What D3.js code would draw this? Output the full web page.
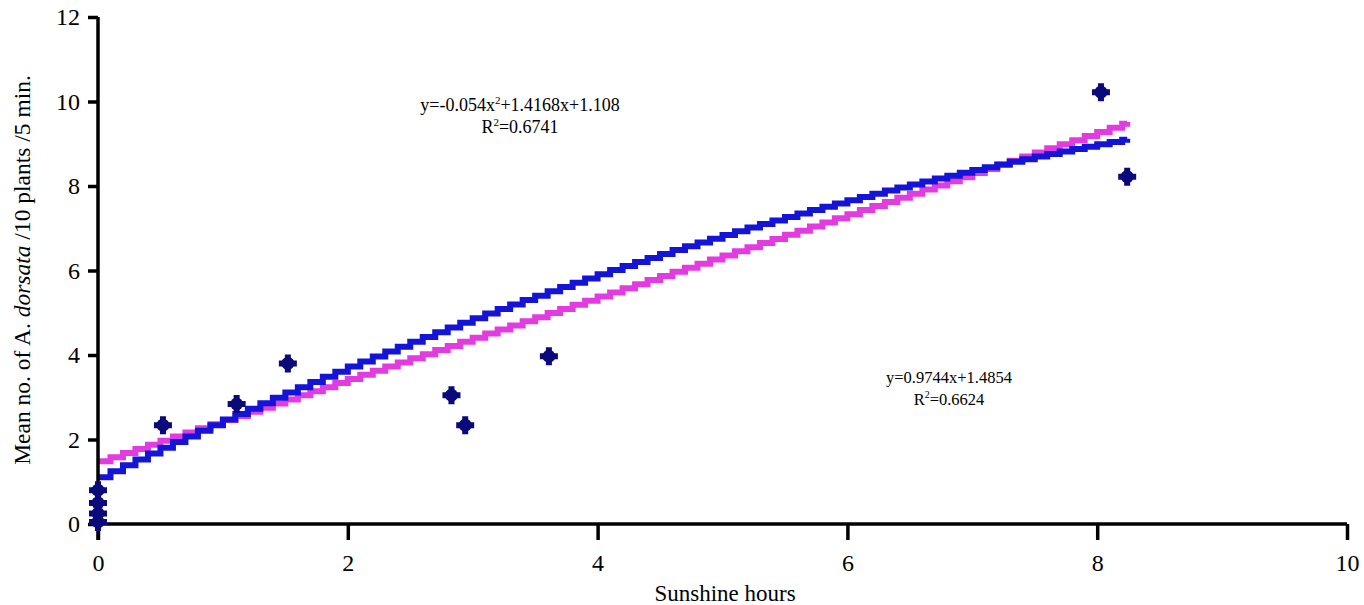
<!DOCTYPE html>
<html>
<head>
<meta charset="utf-8">
<script src="https://cdn.jsdelivr.net/npm/d3@7"></script>
<style>
  body { margin: 0; background: #fff; }
  svg { font-family: "Liberation Serif", "DejaVu Serif", serif; }
</style>
</head>
<body>
<svg id="chart" width="1364" height="605"></svg>
<script>
// observed points (sunshine hours, mean no. of bees)
var sunHours = [0, 0, 0, 0, 0.52, 1.11, 1.52, 2.83, 2.94, 3.61, 8.03, 8.24];
var beeCount = [0.8, 0.5, 0.25, 0.05, 2.34, 2.84, 3.8, 3.05, 2.34, 3.97, 10.22, 8.22];

// trendline coefficients as printed on the chart
var polyCoef = [-0.054, 1.4168, 1.108];
var linCoef = [0.9744, 1.4854];
var fitRange = [0, 8.24];

var xTicks = [0, 2, 4, 6, 8, 10];
var yTicks = [0, 2, 4, 6, 8, 10, 12];

var svg = d3.select('#chart');
var x = d3.scaleLinear().domain([0, 10]).range([98, 1347]);
var y = d3.scaleLinear().domain([0, 12]).range([524, 17]);

// sample fit curves in small steps, drawn stepped like the original
var steps = d3.range(fitRange[0], fitRange[1], 0.1).concat([fitRange[1]]);
var polyPts = steps.map(function(h) { return [h, polyCoef[0]*h*h + polyCoef[1]*h + polyCoef[2]]; });
var linPts = steps.map(function(h) { return [h, linCoef[0]*h + linCoef[1]]; });

var line = d3.line()
    .x(function(d) { return x(d[0]); })
    .y(function(d) { return y(d[1]); })
    .curve(d3.curveStepAfter);

svg.append('path').datum(linPts)
    .attr('d', line).attr('fill', 'none')
    .attr('stroke', '#e23be0').attr('stroke-width', 6);

svg.append('path').datum(polyPts)
    .attr('d', line).attr('fill', 'none')
    .attr('stroke', '#1414d8').attr('stroke-width', 6);

// axes
var xAxis = svg.append('g').attr('transform', 'translate(0,524)')
    .call(d3.axisBottom(x).tickValues(xTicks).tickSize(16).tickPadding(14).tickFormat(d3.format('d')));
var yAxis = svg.append('g').attr('transform', 'translate(98,0)')
    .call(d3.axisLeft(y).tickValues(yTicks).tickSize(10).tickPadding(8).tickFormat(d3.format('d')));

[xAxis, yAxis].forEach(function(a) {
    a.select('.domain').attr('stroke', '#000').attr('stroke-width', 3.5);
    a.selectAll('.tick line').attr('stroke', '#000').attr('stroke-width', 3.5);
    a.selectAll('.tick text').attr('fill', '#000')
        .style('font-family', '"Liberation Serif", serif').style('font-size', '24px');
});
xAxis.select('.domain').attr('d', 'M98,0H1347');
yAxis.select('.domain').attr('d', 'M0,17V540');

// markers
var pts = svg.append('g');
sunHours.forEach(function(h, i) {
    var g = pts.append('g').attr('transform', 'translate(' + x(h) + ',' + y(beeCount[i]) + ')');
    g.append('path').attr('d', d3.symbol().type(d3.symbolCross).size(180)()).attr('fill', '#0a0a7a');
    g.append('circle').attr('r', 6.5).attr('fill', '#0a0a7a');
});

// equations
function eq(cx, cy, fs, parts, r2) {
    var sup = Math.round(fs * 0.62);
    var t = svg.append('text').attr('x', cx).attr('y', cy).attr('text-anchor', 'middle')
        .style('font-size', fs + 'px');
    parts.forEach(function(p) {
        var s = t.append('tspan').text(p[0]);
        if (p[1]) s.attr('dy', -7).style('font-size', sup + 'px');
        if (p[2]) s.attr('dy', 7);
    });
    var t2 = svg.append('text').attr('x', cx).attr('y', cy + 22).attr('text-anchor', 'middle')
        .style('font-size', fs + 'px');
    t2.append('tspan').text('R');
    t2.append('tspan').text('2').attr('dy', -7).style('font-size', sup + 'px');
    t2.append('tspan').text('=' + r2).attr('dy', 7);
}
eq(520, 111, 18, [['y=-0.054x'], ['2', true], ['+1.4168x+1.108', false, true]], '0.6741');
eq(949, 383, 16.5, [['y=0.9744x+1.4854']], '0.6624');

// axis titles
svg.append('text').attr('x', 725).attr('y', 601).attr('text-anchor', 'middle')
    .style('font-size', '23px').text('Sunshine hours');

var yt = svg.append('text').attr('transform', 'translate(30,270) rotate(-90)')
    .attr('text-anchor', 'middle').style('font-size', '23.5px');
yt.append('tspan').text('Mean no. of A. ');
yt.append('tspan').text('dorsata').style('font-style', 'italic');
yt.append('tspan').text(' /10 plants /5 min.');
</script>
</body>
</html>
